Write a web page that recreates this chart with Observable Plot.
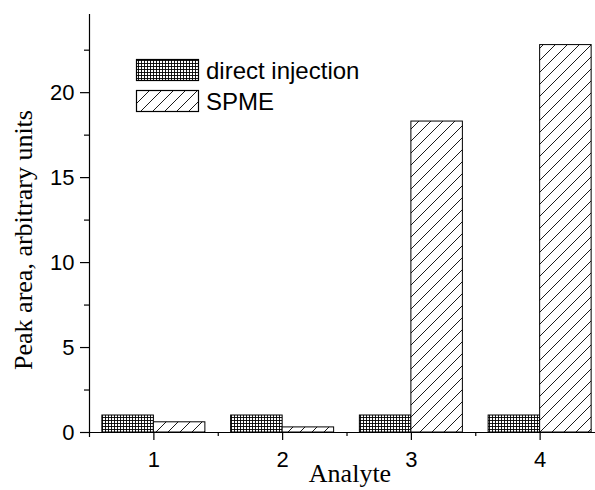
<!DOCTYPE html>
<html>
<head>
<meta charset="utf-8">
<script src="https://cdn.jsdelivr.net/npm/d3@7"></script>
<script src="https://cdn.jsdelivr.net/npm/@observablehq/plot@0.6"></script>
<style>
  html, body { margin: 0; padding: 0; background: #fff; }
  #chart { position: relative; width: 595px; height: 490px; }
</style>
</head>
<body>
<div id="chart"></div>
<script>
const analytes = [1, 2, 3, 4];
const directInjection = [1.0, 1.0, 1.0, 1.0];
const spme = [0.6, 0.3, 18.3, 22.8];
const seriesNames = ["direct injection", "SPME"];
const yMajorTicks = [0, 5, 10, 15, 20];
const yMinorTicks = [2.5, 7.5, 12.5, 17.5, 22.5];
const xMajorTicks = [1, 2, 3, 4];
const xMinorTicks = [1.5, 2.5, 3.5];

const barW = 0.4;
const rows = [];
analytes.forEach((a, i) => {
  rows.push({analyte: a, series: seriesNames[0], value: directInjection[i], x1: a - barW, x2: a});
  rows.push({analyte: a, series: seriesNames[1], value: spme[i], x1: a, x2: a + barW});
});

const fillFor = s => s === seriesNames[0] ? "url(#gridPat)" : "url(#hatchPat)";
const sans = "Liberation Sans, Arial, sans-serif";
const serif = "Liberation Serif, Times New Roman, serif";

const plot = Plot.plot({
  width: 595,
  height: 490,
  marginTop: 14,
  marginBottom: 58,
  marginLeft: 89,
  marginRight: 0,
  x: {type: "linear", domain: [0.5, 4.43], axis: null},
  y: {type: "linear", domain: [0, 24.6], axis: null},
  style: {background: "white", overflow: "visible", fontSize: "22px", fontFamily: sans, color: "black"},
  marks: [
    Plot.rect(rows, {x1: "x1", x2: "x2", y1: 0, y2: "value", fill: d => fillFor(d.series), stroke: "black", strokeWidth: 1}),
    Plot.ruleX([0.5], {stroke: "black", strokeWidth: 1.2, insetBottom: -5}),
    Plot.ruleY([0], {stroke: "black", strokeWidth: 1.2}),
    Plot.axisY({ticks: yMajorTicks, tickSize: 9, tickPadding: 6, anchor: "left", label: null, stroke: "black", fill: "black", strokeWidth: 1.2}),
    Plot.axisY({ticks: yMinorTicks, tickSize: 5, tickFormat: () => "", anchor: "left", label: null, stroke: "black", strokeWidth: 1.2}),
    Plot.axisX({ticks: xMajorTicks, tickSize: 8, tickPadding: 11, tickFormat: d => String(d), anchor: "bottom", label: null, stroke: "black", fill: "black", strokeWidth: 1.2}),
    Plot.axisX({ticks: xMinorTicks, tickSize: 4, tickFormat: () => "", anchor: "bottom", label: null, stroke: "black", strokeWidth: 1.2})
  ]
});

const svg = d3.select(plot);
const defs = svg.insert("defs", ":first-child");
const gp = defs.append("pattern").attr("id", "gridPat").attr("patternUnits", "userSpaceOnUse")
  .attr("width", 3).attr("height", 3);
gp.append("rect").attr("width", 3).attr("height", 3).attr("fill", "white");
gp.append("path").attr("d", "M0,0.5H3M0.5,0V3").attr("stroke", "black").attr("stroke-width", 0.9).attr("fill", "none");
const hp = defs.append("pattern").attr("id", "hatchPat").attr("patternUnits", "userSpaceOnUse")
  .attr("width", 12).attr("height", 12);
hp.append("rect").attr("width", 12).attr("height", 12).attr("fill", "white");
hp.append("path").attr("d", "M-2,14L14,-2M-14,14L2,-2M10,14L26,-2").attr("stroke", "black").attr("stroke-width", 0.9).attr("fill", "none");

svg.append("text").attr("x", 350).attr("y", 482).attr("text-anchor", "middle")
  .attr("font-family", serif).attr("font-size", 26).attr("fill", "black").text("Analyte");
svg.append("text").attr("transform", "translate(32,240) rotate(-90)").attr("text-anchor", "middle")
  .attr("font-family", serif).attr("font-size", 26).attr("fill", "black").text("Peak area, arbitrary units");

const leg = svg.append("g").attr("font-family", sans).attr("font-size", 24).attr("text-anchor", "start");
seriesNames.forEach((s, i) => {
  const y0 = 59.5 + i * 31;
  leg.append("rect").attr("x", 136.5).attr("y", y0).attr("width", 62).attr("height", 21)
    .attr("fill", fillFor(s)).attr("stroke", "black").attr("stroke-width", 1.2);
  leg.append("text").attr("x", 206).attr("y", y0 + 19).attr("fill", "black").text(s);
});

document.getElementById("chart").appendChild(plot);
</script>
</body>
</html>
